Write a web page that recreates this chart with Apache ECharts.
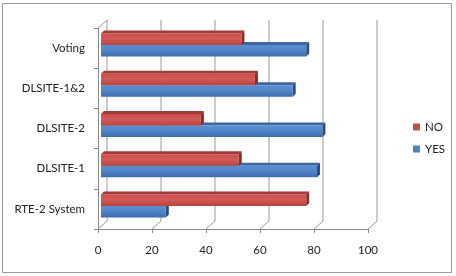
<!DOCTYPE html>
<html><head><meta charset="utf-8">
<script src="https://cdn.jsdelivr.net/npm/echarts@6/dist/echarts.min.js"></script>
<style>html,body{margin:0;padding:0;background:#fff}#c{width:456px;height:276px}</style>
</head><body><div id="c"></div>
<script>
const categories = ['RTE-2 System', 'DLSITE-1', 'DLSITE-2', 'DLSITE-1&2', 'Voting'];
const noValues = [76, 51, 37, 57, 52];
const yesValues = [24, 80, 82, 71, 76];
const xTicks = [0, 20, 40, 60, 80, 100];

const FONT = 'Lato';
const DX = 9, DY = -8;       // wall depth
const BD = 3;                 // bar depth
const BH = 11.5;              // bar height

function barRenderer(isNo, front, top, side) {
  return function (params, api) {
    const v = api.value(0), i = api.value(1);
    const s = api.coord([0, i]);
    const e = api.coord([v, i]);
    const cy = s[1] - 3;
    const y0 = isNo ? cy - BH : cy;
    const y1 = isNo ? cy : cy + BH;
    const x0 = s[0] + 3, x1 = e[0] + 3;
    return {
      type: 'group',
      children: [
        { type: 'polygon', shape: { points: [[x0, y0], [x0 + BD, y0 - BD], [x1 + BD, y0 - BD], [x1, y0]] },
          style: { fill: top } },
        { type: 'polygon', shape: { points: [[x1, y0], [x1 + BD, y0 - BD], [x1 + BD, y1 - BD], [x1, y1]] },
          style: { fill: side } },
        { type: 'rect', shape: { x: x0, y: y0, width: x1 - x0, height: y1 - y0 },
          style: { fill: new echarts.graphic.LinearGradient(0, 0, 0, 1, front) } }
      ]
    };
  };
}

const chart = echarts.init(document.getElementById('c'), null, { renderer: 'canvas' });
chart.setOption({
  animation: false,
  backgroundColor: '#fff',
  graphic: [{ type: 'rect', shape: { x: 2.5, y: 3.5, width: 449, height: 269 },
    style: { fill: 'none', stroke: '#9a9a9a', lineWidth: 1 }, z: 0 }],
  grid: { left: 98, right: 88, top: 28, bottom: 47, containLabel: false },
  legend: {
    data: ['NO', 'YES'], orient: 'vertical', left: 413, top: 121, padding: 0,
    icon: 'rect', itemWidth: 7, itemHeight: 7, itemGap: 10,
    textStyle: { fontSize: 11.5, color: '#222', fontFamily: FONT }
  },
  xAxis: {
    type: 'value', min: 0, max: 100, interval: 20,
    axisLine: { show: true, lineStyle: { color: '#8a8a8a' } },
    axisTick: { show: true, length: 4, lineStyle: { color: '#8a8a8a' } },
    splitLine: { show: false },
    axisLabel: { margin: 15, fontSize: 11.5, color: '#222', fontFamily: FONT }
  },
  yAxis: {
    type: 'category', data: categories,
    axisLine: { show: true, lineStyle: { color: '#8a8a8a' } },
    axisTick: { show: true, length: 4, lineStyle: { color: '#8a8a8a' } },
    axisLabel: { margin: 13, fontSize: 11.5, color: '#222', fontFamily: FONT }
  },
  series: [
    {
      name: 'walls', type: 'custom', silent: true, z: 1,
      data: xTicks.map(v => [v, 0]),
      encode: { x: 0, y: 1 },
      renderItem: function (params, api) {
        const cs = params.coordSys;
        const px = api.coord([api.value(0), 0])[0];
        const bottom = cs.y + cs.height;
        const children = [{
          type: 'polyline',
          shape: { points: [[px, bottom], [px + DX, bottom + DY], [px + DX, cs.y + DY]] },
          style: { stroke: '#9a9a9a', lineWidth: 1, fill: null }
        }];
        if (api.value(0) === 0) {
          children.push({ type: 'line', shape: { x1: px, y1: cs.y, x2: px + DX, y2: cs.y + DY },
            style: { stroke: '#9a9a9a', lineWidth: 1 } });
        }
        return { type: 'group', children };
      }
    },
    {
      name: 'YES', type: 'custom', z: 3,
      itemStyle: { color: '#4F81BD' },
      data: yesValues.map((v, i) => [v, i]),
      encode: { x: 0, y: 1 },
      renderItem: barRenderer(false,
        [{ offset: 0, color: '#5a8dd0' }, { offset: 0.4, color: '#5387cb' }, { offset: 1, color: '#3e6cab' }],
        '#3d67a2', '#2b4d7c')
    },
    {
      name: 'NO', type: 'custom', z: 3,
      itemStyle: { color: '#C0504D' },
      data: noValues.map((v, i) => [v, i]),
      encode: { x: 0, y: 1 },
      renderItem: barRenderer(true,
        [{ offset: 0, color: '#c84f4c' }, { offset: 0.45, color: '#d25a57' }, { offset: 1, color: '#b9443f' }],
        '#a03b38', '#862d2b')
    }
  ]
});
</script></body></html>
